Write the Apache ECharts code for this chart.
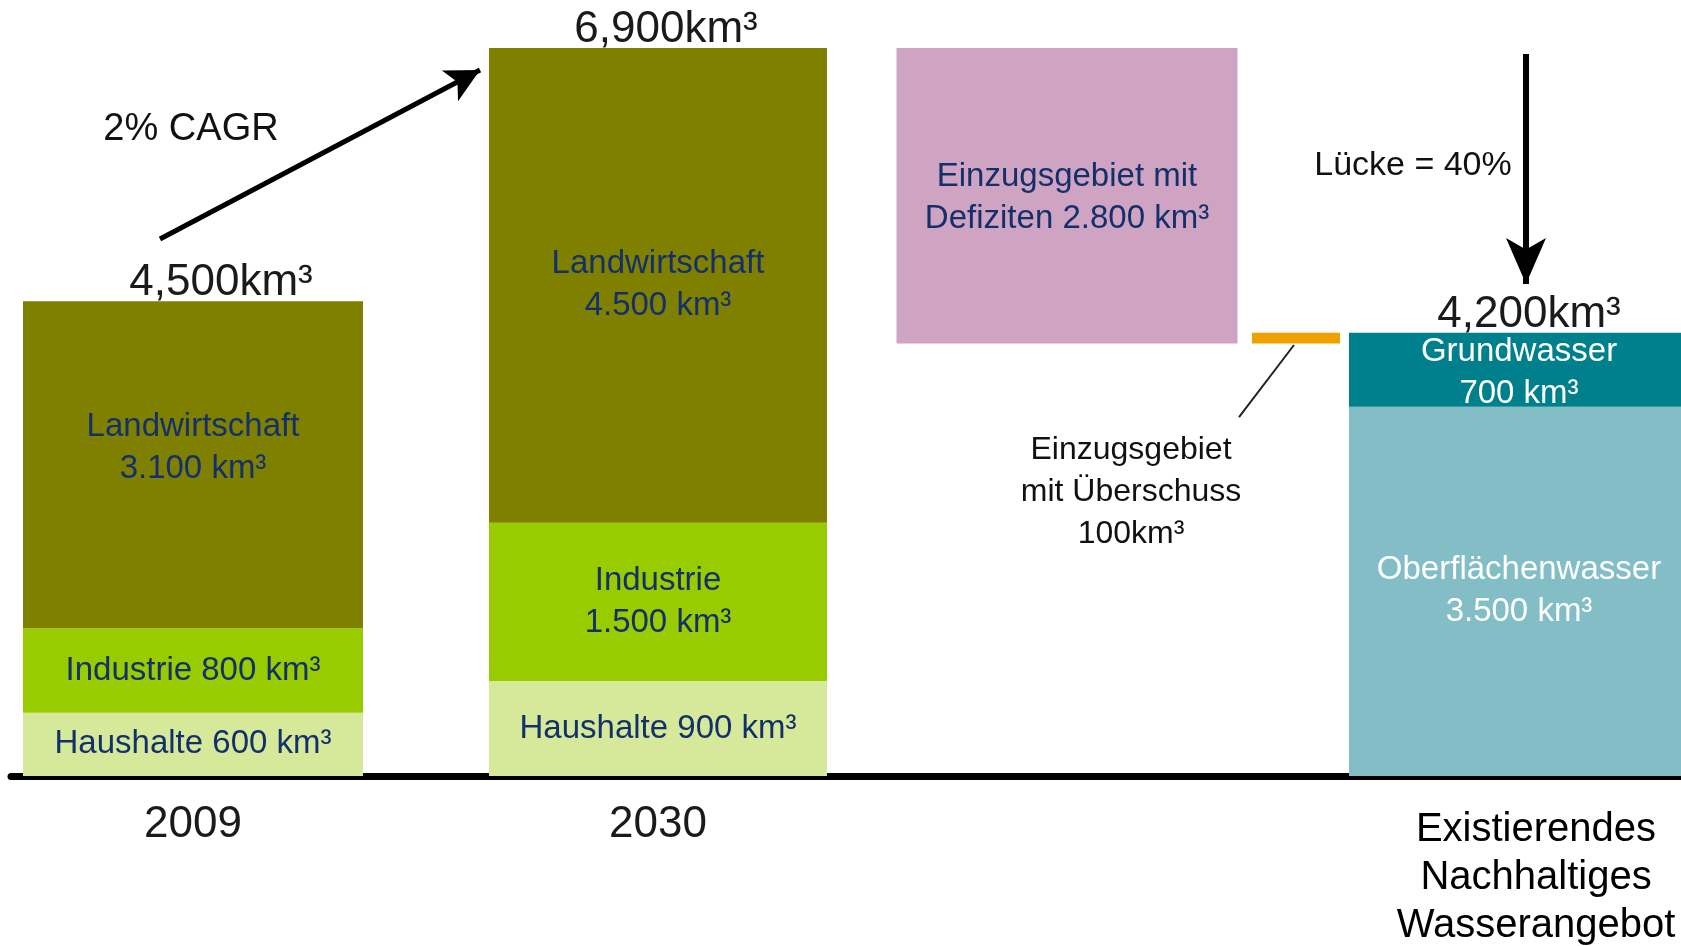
<!DOCTYPE html>
<html>
<head>
<meta charset="utf-8">
<script src="https://cdn.jsdelivr.net/npm/echarts@6/dist/echarts.min.js"></script>
<style>
  html, body { margin: 0; padding: 0; background: #fff; }
  #chart { width: 1681px; height: 946px; }
</style>
</head>
<body>
<div id="chart"></div>
<script>
// Wasserbedarf 2009 / 2030 vs. nachhaltiges Angebot, alle Werte in km³
const columns = ['2009', '2030', 'Existierendes\nNachhaltiges\nWasserangebot']
const haushalte = [600, 900]
const industrie = [800, 1500]
const landwirtschaft = [3100, 4500]
const defizit = 2800      // Einzugsgebiet mit Defiziten
const ueberschuss = 100   // Einzugsgebiet mit Überschuss
const oberflaeche = 3500
const grundwasser = 700
const luecke = '40%'

// layout: column centres / widths in x-axis units (axis runs 1:1 with px)
const colX = [193, 658, 1067, 1296, 1519]
const colW = [340, 338, 341, 88, 340]
const totalDx = [28, 8, 10]

const FONT = "'Liberation Sans', Arial, Helvetica, sans-serif"
const NAVY = '#13306a'
const ZERO_Y = 776            // px of value 0
const PX_PER_UNIT = 728 / 6900

const deNum = v => v >= 1000 ? Math.floor(v / 1000) + '.' + String(v % 1000).padStart(3, '0') : String(v)
const enNum = v => v >= 1000 ? Math.floor(v / 1000) + ',' + String(v % 1000).padStart(3, '0') : String(v)

const segs = []
function seg(col, y0, y1, color, text, textColor, dy) {
  segs.push({ value: [colX[col], y0, y1], w: colW[col], color, text, textColor: textColor || NAVY, dy: dy || 0 })
}

const totals = []
for (let i = 0; i < 2; i++) {
  let b = 0
  seg(i, b, b += haushalte[i], '#d6e99b', 'Haushalte ' + deNum(haushalte[i]) + ' km³')
  seg(i, b, b += industrie[i], '#99cc00', (i === 0 ? 'Industrie ' : 'Industrie\n') + deNum(industrie[i]) + ' km³')
  seg(i, b, b += landwirtschaft[i], '#808000', 'Landwirtschaft\n' + deNum(landwirtschaft[i]) + ' km³', NAVY, i === 0 ? -17 : 0)
  totals.push([colX[i], b])
}
const demand2030 = totals[1][1]
const supply = oberflaeche + grundwasser
seg(2, demand2030 - defizit, demand2030, '#cfa4c3', 'Einzugsgebiet mit\nDefiziten ' + deNum(defizit) + ' km³', NAVY, 2)
seg(3, supply - ueberschuss, supply, '#f0a000', '')
seg(4, 0, oberflaeche, '#83bdc6', 'Oberflächenwasser\n' + deNum(oberflaeche) + ' km³', '#fff')
seg(4, oberflaeche, supply, '#007f8c', 'Grundwasser\n' + deNum(grundwasser) + ' km³', '#fff', 3)
totals.push([colX[4], supply])

// annotation texts (data coordinates)
const notes = [
  { value: [191, 6123], text: '2% CAGR', size: 38 },
  { value: [1413, 5781], text: 'Lücke = ' + luecke, size: 34 },
  { value: [1131, 2692], text: 'Einzugsgebiet\nmit Überschuss\n' + ueberschuss + 'km³', size: 32 }
]

const chart = echarts.init(document.getElementById('chart'))

chart.setOption({
  animation: false,
  grid: { left: 11, right: 0, top: ZERO_Y - 7000 * PX_PER_UNIT, bottom: 946 - ZERO_Y },
  xAxis: {
    type: 'value',
    min: 11,
    max: 1681,
    splitLine: { show: false },
    axisTick: { show: false },
    axisLine: { show: true, onZero: false, lineStyle: { color: '#000', width: 7 } },
    axisLabel: {
      customValues: [colX[0], colX[1], colX[4]],
      margin: 24,
      formatter: function (v) {
        if (v === colX[0]) return '{a|' + columns[0] + '}'
        if (v === colX[1]) return '{a|' + columns[1] + '}'
        return '{b|' + columns[2] + '}'
      },
      rich: {
        a: { fontSize: 44, lineHeight: 50, fontFamily: FONT, color: '#1a1a1a' },
        b: { fontSize: 40, lineHeight: 48, fontFamily: FONT, color: '#000', align: 'center', padding: [11, 0, 0, 34] }
      }
    }
  },
  yAxis: { type: 'value', min: 0, max: 7000, show: false, splitLine: { show: false } },
  series: [
    {
      type: 'custom',
      name: 'segments',
      data: segs.map(s => s.value),
      encode: { x: 0, y: [1, 2] },
      renderItem: function (params, api) {
        const s = segs[params.dataIndex]
        const p0 = api.coord([api.value(0), api.value(1)])
        const p1 = api.coord([api.value(0), api.value(2)])
        const w = api.size([s.w, 0])[0]
        const el = {
          type: 'rect',
          shape: { x: p0[0] - w / 2, y: p1[1], width: w, height: p0[1] - p1[1] },
          style: { fill: s.color }
        }
        if (s.text) {
          el.textContent = {
            style: { text: s.text, fill: s.textColor, fontSize: 33, lineHeight: 42, fontFamily: FONT, align: 'center' }
          }
          el.textConfig = { position: 'inside', offset: [0, s.dy] }
        }
        return el
      }
    },
    {
      type: 'custom',
      name: 'totals',
      data: totals,
      renderItem: function (params, api) {
        const p = api.coord([api.value(0), api.value(1)])
        return {
          type: 'text',
          x: p[0] + totalDx[params.dataIndex],
          y: p[1] + 4,
          style: {
            text: enNum(api.value(1)) + 'km³',
            fontSize: 44, fontFamily: FONT, fill: '#1a1a1a',
            align: 'center', verticalAlign: 'bottom'
          }
        }
      }
    },
    {
      type: 'custom',
      name: 'notes',
      data: notes.map(n => n.value),
      renderItem: function (params, api) {
        const n = notes[params.dataIndex]
        const p = api.coord([api.value(0), api.value(1)])
        return {
          type: 'text',
          x: p[0],
          y: p[1],
          style: {
            text: n.text, fontSize: n.size, lineHeight: 42, fontFamily: FONT, fill: '#111',
            align: 'center', verticalAlign: 'middle'
          }
        }
      },
      markLine: {
        silent: true,
        symbol: ['none', 'arrow'],
        label: { show: false },
        lineStyle: { color: '#000', width: 5, type: 'solid' },
        data: [
          [{ coord: [160, 5090], symbolSize: [26, 34] }, { coord: [480, 6691], symbolSize: [26, 34] }],
          [{ coord: [1526, 6843], lineStyle: { width: 6 } }, { coord: [1526, 4663], symbolSize: [30, 46] }],
          [{ coord: [1294, 4085], symbol: 'none', lineStyle: { width: 2, color: '#222' } },
           { coord: [1239, 3402], symbol: 'none' }]
        ]
      }
    }
  ]
})
</script>
</body>
</html>
